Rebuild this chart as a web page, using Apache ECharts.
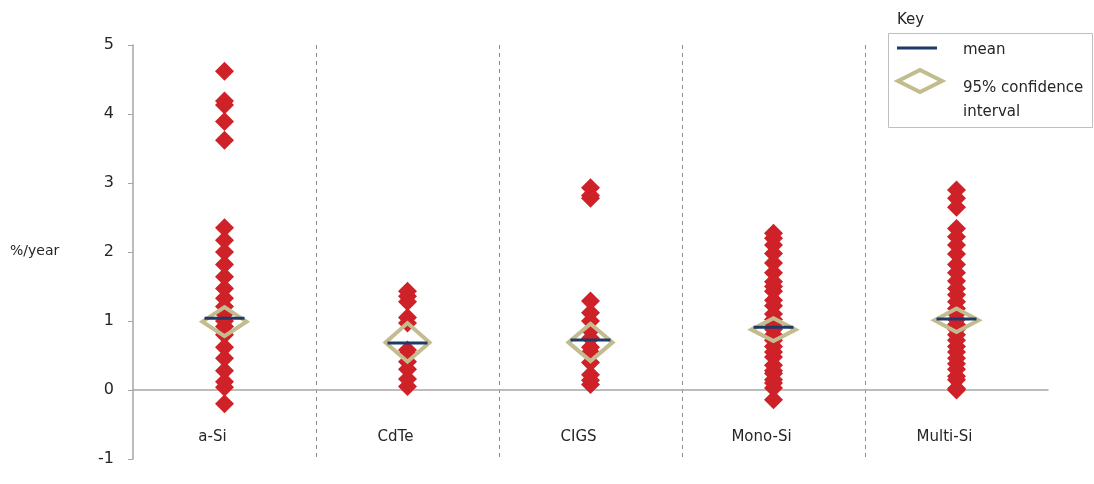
<!DOCTYPE html>
<html>
<head>
<meta charset="utf-8">
<script src="https://cdn.jsdelivr.net/npm/echarts@6/dist/echarts.min.js"></script>
<style>
  html, body { margin: 0; padding: 0; background: #ffffff; }
  #chart { width: 1094px; height: 484px; }
</style>
</head>
<body>
<div id="chart"></div>
<script>
// Technologies along the x axis
const categories = ['a-Si', 'CdTe', 'CIGS', 'Mono-Si', 'Multi-Si'];

// Individual degradation rates (%/year) for each technology
const aSiRates = [4.62, 4.19, 4.13, 3.89, 3.62, 2.35, 2.17, 2.0, 1.82, 1.64, 1.47, 1.33, 1.21, 1.1, 1.0, 0.92, 0.8, 0.62, 0.46, 0.28, 0.12, 0.04, -0.2];
const cdTeRates = [1.43, 1.36, 1.28, 1.05, 0.97, 0.58, 0.52, 0.41, 0.3, 0.16, 0.05];
const cigsRates = [2.93, 2.82, 2.78, 1.29, 1.12, 1.0, 0.86, 0.75, 0.62, 0.55, 0.4, 0.22, 0.14, 0.08];
const monoSiRates = [2.27, 2.2, 2.1, 1.98, 1.84, 1.7, 1.57, 1.5, 1.43, 1.3, 1.22, 1.1, 1.02, 0.95, 0.88, 0.8, 0.72, 0.63, 0.55, 0.48, 0.36, 0.28, 0.24, 0.15, 0.1, 0.03, -0.14];
const multiSiRates = [2.9, 2.78, 2.65, 2.34, 2.22, 2.1, 1.97, 1.82, 1.7, 1.58, 1.47, 1.38, 1.28, 1.18, 1.1, 1.02, 0.95, 0.88, 0.8, 0.72, 0.63, 0.55, 0.46, 0.38, 0.3, 0.2, 0.15, 0.02, 0.0];

// Mean and 95% confidence interval per technology
const meanRates = [1.04, 0.68, 0.725, 0.91, 1.03];
const ciLow = [0.78, 0.41, 0.42, 0.71, 0.84];
const ciHigh = [1.20, 0.97, 0.96, 1.04, 1.18];

// Y axis tick labels
const yTicks = [-1, 0, 1, 2, 3, 4, 5];

const FONT = 'DejaVu Sans';
const RED = '#CF2128';
const NAVY = '#1F3A68';
const KHAKI = '#C3BC8E';
const GREY = '#A6A6A6';

const rateGroups = [aSiRates, cdTeRates, cigsRates, monoSiRates, multiSiRates];
const pointData = [];
rateGroups.forEach((rates, i) => rates.forEach(v => pointData.push([i, v])));

const meanData = meanRates.map((m, i) => [i, m]);
const ciData = ciLow.map((lo, i) => [i, lo, ciHigh[i]]);

const chart = echarts.init(document.getElementById('chart'), null, { renderer: 'canvas' });

chart.setOption({
  animation: false,
  backgroundColor: '#ffffff',
  textStyle: { fontFamily: FONT },
  grid: { left: 133, right: 46, top: 45, bottom: 25, containLabel: false, outerBoundsMode: 'none' },
  xAxis: {
    type: 'category',
    data: categories,
    boundaryGap: true,
    axisLine: { onZero: true, lineStyle: { color: GREY, width: 1.5 } },
    axisTick: { show: false },
    axisLabel: {
      margin: -29,
      fontFamily: FONT,
      fontSize: 15,
      color: '#262626',
      padding: [0, 24, 0, 0]
    },
    splitLine: {
      show: true,
      showMinLine: false,
      showMaxLine: false,
      lineStyle: { color: '#8C8C8C', type: [4, 4], width: 1 }
    }
  },
  yAxis: {
    type: 'value',
    min: yTicks[0],
    max: yTicks[yTicks.length - 1],
    interval: 1,
    axisLine: { show: true, lineStyle: { color: GREY, width: 1.5 } },
    axisTick: { show: true, inside: false, length: 5, lineStyle: { color: GREY } },
    axisLabel: {
      margin: 19,
      fontFamily: FONT,
      fontSize: 16,
      color: '#262626'
    },
    splitLine: { show: false }
  },
  series: [
    {
      name: 'rates',
      type: 'scatter',
      data: pointData,
      symbol: 'diamond',
      symbolSize: [19, 19],
      itemStyle: { color: RED, opacity: 1 },
      z: 2
    },
    {
      name: '95% confidence interval',
      type: 'custom',
      data: ciData,
      z: 3,
      renderItem: function (params, api) {
        const lo = api.coord([api.value(0), api.value(1)]);
        const hi = api.coord([api.value(0), api.value(2)]);
        const cx = lo[0];
        const cy = (lo[1] + hi[1]) / 2;
        const half = 22;
        return {
          type: 'polygon',
          shape: { points: [[cx - half, cy], [cx, hi[1]], [cx + half, cy], [cx, lo[1]]] },
          style: { fill: 'none', stroke: KHAKI, lineWidth: 4 }
        };
      }
    },
    {
      name: 'mean',
      type: 'custom',
      data: meanData,
      z: 4,
      renderItem: function (params, api) {
        const p = api.coord([api.value(0), api.value(1)]);
        return {
          type: 'line',
          shape: { x1: p[0] - 20, y1: p[1], x2: p[0] + 20, y2: p[1] },
          style: { stroke: NAVY, lineWidth: 3 }
        };
      }
    }
  ],
  graphic: [
    {
      type: 'text',
      left: 10,
      top: 244,
      style: { text: '%/year', fontFamily: FONT, fontSize: 14, fill: '#262626' }
    },
    {
      type: 'text',
      left: 897,
      top: 13,
      style: { text: 'Key', fontFamily: FONT, fontSize: 15, fill: '#262626' }
    },
    {
      type: 'rect',
      shape: { x: 888.5, y: 33.5, width: 204, height: 94 },
      style: { fill: '#ffffff', stroke: '#BFBFBF', lineWidth: 1 },
      z: 10
    },
    {
      type: 'line',
      shape: { x1: 897, y1: 48, x2: 937, y2: 48 },
      style: { stroke: NAVY, lineWidth: 3 },
      z: 11
    },
    {
      type: 'polygon',
      shape: { points: [[898, 81], [920, 70], [942, 81], [920, 92]] },
      style: { fill: 'none', stroke: KHAKI, lineWidth: 4 },
      z: 11
    },
    {
      type: 'text',
      left: 963,
      top: 43,
      style: { text: 'mean', fontFamily: FONT, fontSize: 15, fill: '#262626' },
      z: 11
    },
    {
      type: 'text',
      left: 963,
      top: 76,
      style: { text: '95% confidence\ninterval', fontFamily: FONT, fontSize: 15, lineHeight: 24, fill: '#262626' },
      z: 11
    }
  ]
});
</script>
</body>
</html>
